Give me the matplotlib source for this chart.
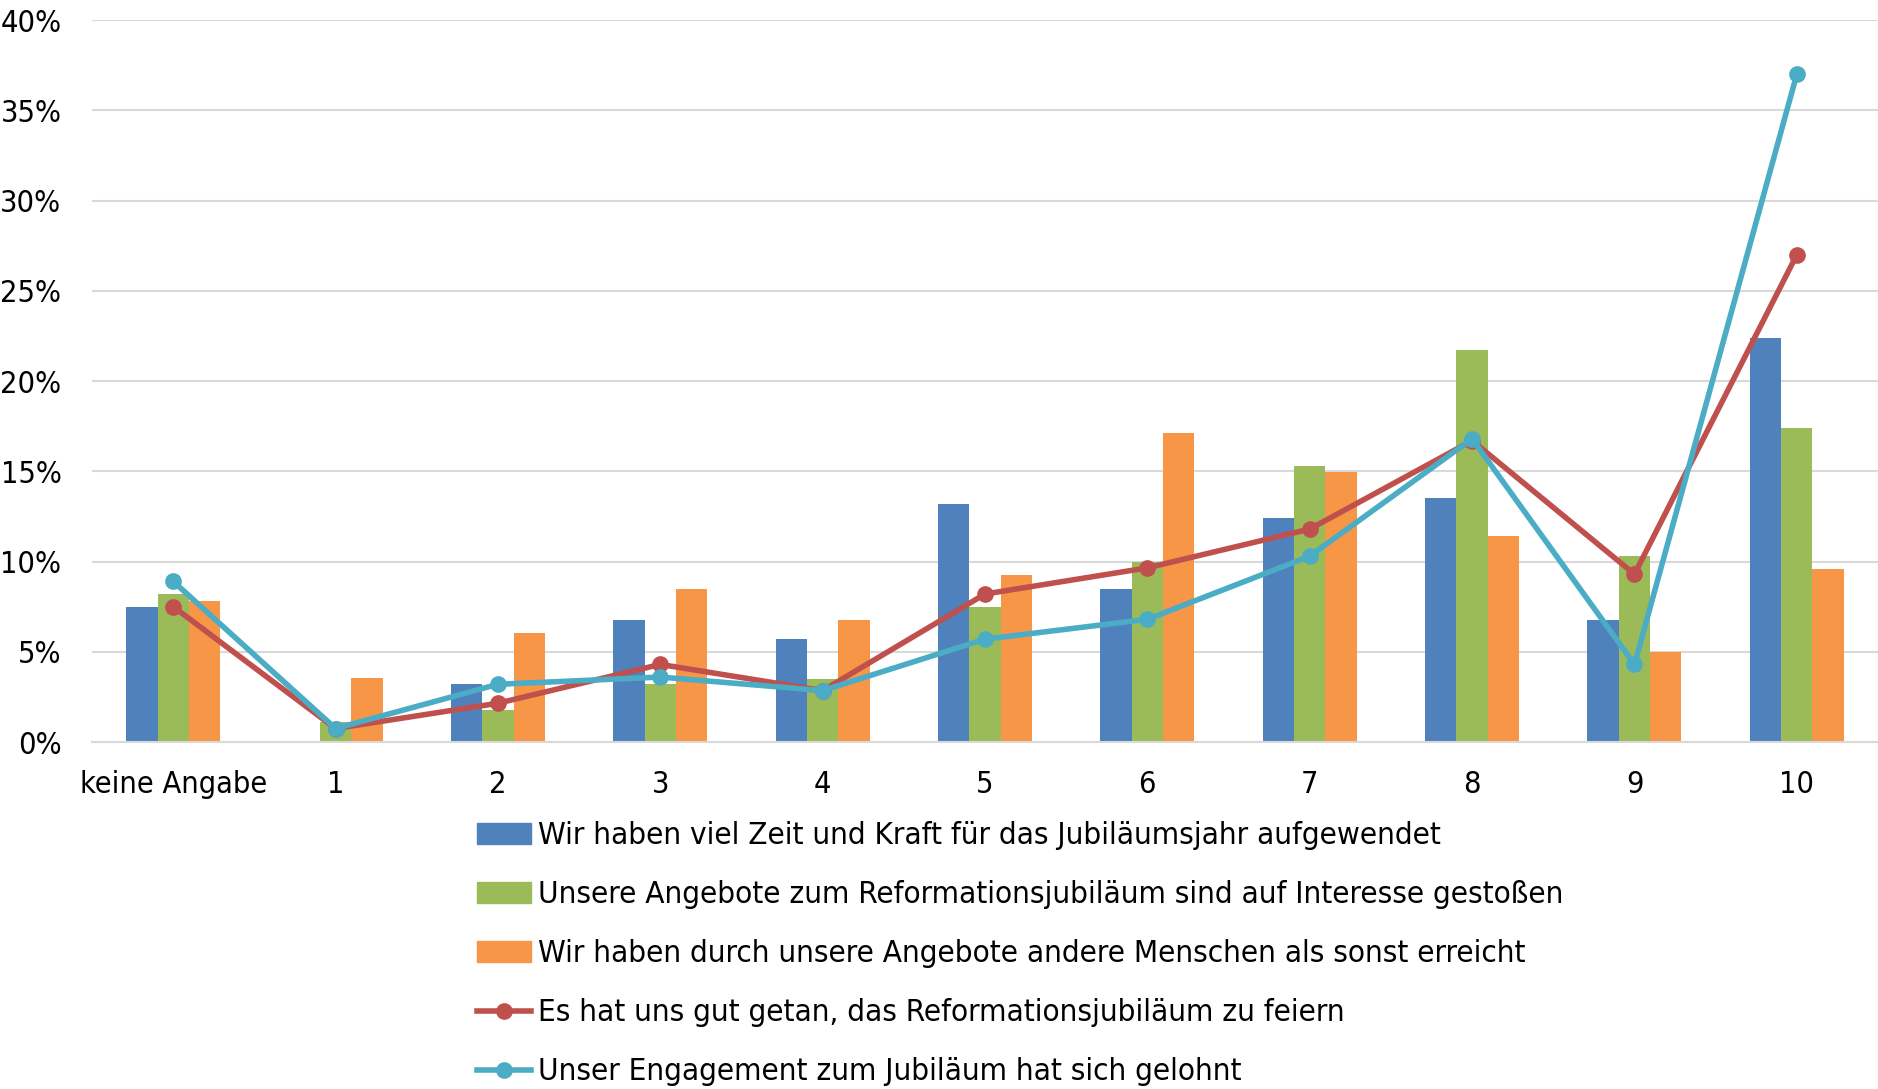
import numpy as np
import matplotlib
matplotlib.use('Agg')
import matplotlib.pyplot as plt
from matplotlib.lines import Line2D
from matplotlib.patches import Patch

plt.rcParams['font.family'] = ['DejaVu Sans']
plt.rcParams['font.stretch'] = 'condensed'

# Daten (Anteile in %)
kategorien = ['keine Angabe', '1', '2', '3', '4', '5', '6', '7', '8', '9', '10']
zeit_kraft = [7.5, 0, 3.2, 6.75, 5.7, 13.2, 8.5, 12.4, 13.5, 6.75, 22.4]
interesse = [8.2, 1.1, 1.8, 3.2, 3.5, 7.5, 9.95, 15.3, 21.7, 10.3, 17.4]
andere_menschen = [7.8, 3.55, 6.05, 8.5, 6.75, 9.25, 17.1, 14.95, 11.4, 5.0, 9.6]
gut_getan = [7.5, 0.75, 2.15, 4.3, 2.85, 8.2, 9.65, 11.8, 16.7, 9.3, 27.0]
gelohnt = [8.9, 0.75, 3.2, 3.6, 2.85, 5.7, 6.8, 10.3, 16.8, 4.3, 37.0]

namen = ['Wir haben viel Zeit und Kraft für das Jubiläumsjahr aufgewendet',
         'Unsere Angebote zum Reformationsjubiläum sind auf Interesse gestoßen',
         'Wir haben durch unsere Angebote andere Menschen als sonst erreicht',
         'Es hat uns gut getan, das Reformationsjubiläum zu feiern',
         'Unser Engagement zum Jubiläum hat sich gelohnt']
farben = ['#4F81BD', '#9BBB59', '#F79646', '#C0504D', '#4BACC6']

fig = plt.figure(figsize=(18.78, 10.89), dpi=100)
ax = fig.add_axes([0.049, 0.3186, 0.951, 0.663])

x = np.arange(len(kategorien))
w = 0.193
ax.bar(x - w, zeit_kraft, w, color=farben[0], zorder=2)
ax.bar(x, interesse, w, color=farben[1], zorder=2)
ax.bar(x + w, andere_menschen, w, color=farben[2], zorder=2)
ax.plot(x, gut_getan, color=farben[3], lw=4, marker='o', ms=11, zorder=3)
ax.plot(x, gelohnt, color=farben[4], lw=4, marker='o', ms=11, zorder=4)

ax.set_xlim(-0.5, len(kategorien) - 0.5)
ax.set_ylim(0, 40)
ax.set_yticks(range(0, 41, 5))
ax.set_yticklabels([f'{v}%' for v in range(0, 41, 5)])
ax.set_xticks(x)
ax.set_xticklabels(kategorien)
ax.tick_params(axis='both', length=0, labelsize=22)
ax.tick_params(axis='y', pad=22)
ax.tick_params(axis='x', pad=20)
ax.grid(axis='y', color='#D9D9D9', lw=1.5, zorder=0)
for s in ['top', 'right', 'left']:
    ax.spines[s].set_visible(False)
ax.spines['bottom'].set_color('#D9D9D9')
ax.spines['bottom'].set_linewidth(1.5)

handles = [Patch(color=farben[0]), Patch(color=farben[1]), Patch(color=farben[2]),
           Line2D([], [], color=farben[3], lw=4, marker='o', ms=11),
           Line2D([], [], color=farben[4], lw=4, marker='o', ms=11)]
fig.legend(handles, namen, loc='upper left', bbox_to_anchor=(0.2455, 0.26),
           frameon=False, fontsize=22.5, handlelength=1.75, handletextpad=0.2,
           labelspacing=0.96, borderpad=0)

fig.savefig('out.png', dpi=100)
